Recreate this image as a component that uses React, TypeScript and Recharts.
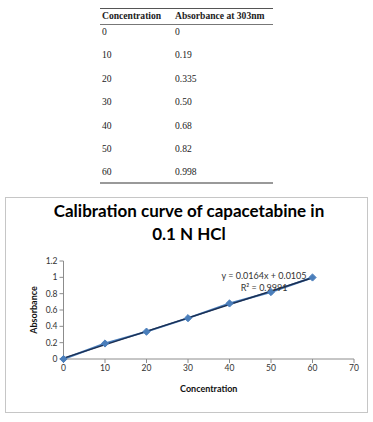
import React from 'react';
import { ComposedChart, Line, XAxis, YAxis, Label } from 'recharts';

// calibration readings (table + chart)
const concentrations = [0, 10, 20, 30, 40, 50, 60];
const absorbance = [0, 0.19, 0.335, 0.5, 0.68, 0.82, 0.998];
const absorbanceText = ['0', '0.19', '0.335', '0.50', '0.68', '0.82', '0.998'];

const xTicks = [0, 10, 20, 30, 40, 50, 60, 70];
const yTicks = [0, 0.2, 0.4, 0.6, 0.8, 1, 1.2];

// linear fit shown on the chart
const slope = 0.0164;
const intercept = 0.0105;
const rSquared = '0.9991';
const trendRange = [0, 60];

const points = concentrations.map((x, i) => ({ x, y: absorbance[i] }));
const trend = trendRange.map((x) => ({ x, y: slope * x + intercept }));

const chartFont = 'Lato, "Open Sans", sans-serif';
const axisGray = '#8c8c8c';

const Diamond = (props: any) => {
  const { cx, cy, index } = props;
  if (cx == null || cy == null) return <g key={`d-${index}`} />;
  const r = 3.6;
  return (
    <path
      key={`d-${index}`}
      d={`M${cx},${cy - r}L${cx + r},${cy}L${cx},${cy + r}L${cx - r},${cy}Z`}
      fill="#4a7ebb"
      stroke="#4a7ebb"
    />
  );
};

const cell: React.CSSProperties = { position: 'absolute', whiteSpace: 'nowrap', lineHeight: '14px' };

const DataTable = () => {
  const rowTop = (i: number) => 16 + i * 23.4;
  return (
    <div
      style={{
        position: 'absolute',
        left: 100,
        top: 8,
        width: 173,
        height: 173,
        fontFamily: '"Liberation Serif", "Times New Roman", serif',
        fontSize: 9.6,
        color: '#222',
        borderTop: '1px solid #555',
        borderBottom: '2px solid #999',
      }}
    >
      <div style={{ ...cell, left: 2, top: 0, fontWeight: 'bold' }}>Concentration</div>
      <div style={{ ...cell, left: 75, top: 0, fontWeight: 'bold' }}>Absorbance at 303nm</div>
      <div style={{ position: 'absolute', left: 0, right: 0, top: 15, borderTop: '1px solid #777' }} />
      {concentrations.map((c, i) => (
        <React.Fragment key={c}>
          <div style={{ ...cell, left: 2, top: rowTop(i) }}>{c}</div>
          <div style={{ ...cell, left: 75, top: rowTop(i) }}>{absorbanceText[i]}</div>
        </React.Fragment>
      ))}
    </div>
  );
};

export default function App() {
  return (
    <div style={{ position: 'absolute', left: 0, top: 0, width: 373, height: 422, background: '#fff' }}>
      <DataTable />
      <div
        style={{
          position: 'absolute',
          left: 5,
          top: 197,
          width: 361,
          height: 214,
          border: '1px solid #c6c6c6',
        }}
      />
      <div
        style={{
          position: 'absolute',
          left: 0,
          top: 199,
          width: 378,
          textAlign: 'center',
          fontFamily: chartFont,
          fontWeight: 'bold',
          fontSize: 17,
          lineHeight: '23px',
          color: '#000',
        }}
      >
        Calibration curve of capacetabine in
        <br />
        0.1 N HCl
      </div>
      <div style={{ position: 'absolute', left: 0, top: 197 }}>
        <ComposedChart width={373} height={215} margin={{ top: 64, right: 19, bottom: 23, left: 33.5 }}>
          <XAxis
            type="number"
            dataKey="x"
            domain={[0, 70]}
            ticks={xTicks}
            interval={0}
            tickSize={4}
            stroke={axisGray}
            tick={{ fill: '#333', fontSize: 8.5, fontFamily: chartFont }}
            height={30}
          >
            <Label
              value="Concentration"
              position="insideBottom"
              offset={-3}
              style={{ fill: '#111', fontSize: 9, fontWeight: 'bold', fontFamily: chartFont }}
            />
          </XAxis>
          <YAxis
            type="number"
            domain={[0, 1.2]}
            ticks={yTicks}
            interval={0}
            tickSize={4}
            width={30}
            stroke={axisGray}
            tick={{ fill: '#333', fontSize: 8.5, fontFamily: chartFont }}
          >
            <Label
              value="Absorbance"
              angle={-90}
              position="insideLeft"
              offset={0}
              style={{ fill: '#111', fontSize: 9, fontWeight: 'bold', fontFamily: chartFont, textAnchor: 'middle' }}
            />
          </YAxis>
          <Line
            data={points}
            dataKey="y"
            type="linear"
            stroke="#4a7ebb"
            strokeWidth={2}
            dot={Diamond}
            activeDot={false}
            isAnimationActive={false}
          />
          <Line
            data={trend}
            dataKey="y"
            type="linear"
            stroke="#1b2f52"
            strokeWidth={1.5}
            dot={false}
            activeDot={false}
            isAnimationActive={false}
          />
        </ComposedChart>
      </div>
      <div
        style={{
          position: 'absolute',
          left: 214,
          top: 270,
          width: 100,
          textAlign: 'center',
          fontFamily: chartFont,
          fontSize: 9,
          lineHeight: '12px',
          color: '#333',
        }}
      >
        y = {slope}x + {intercept}
        <br />
        R² = {rSquared}
      </div>
    </div>
  );
}
